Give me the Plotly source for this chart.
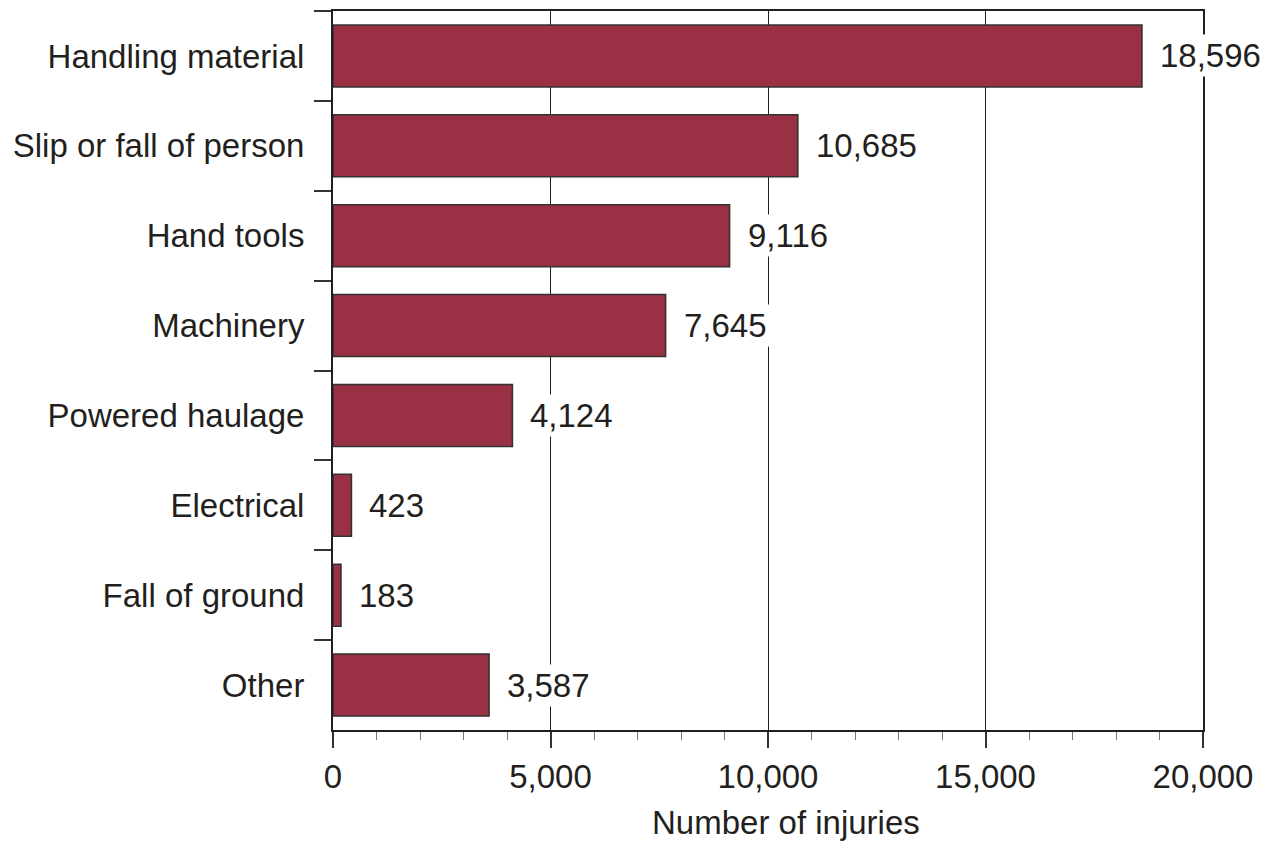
import plotly.graph_objects as go

categories = ["Handling material", "Slip or fall of person", "Hand tools", "Machinery",
              "Powered haulage", "Electrical", "Fall of ground", "Other"]
injuries = [18596, 10685, 9116, 7645, 4124, 423, 183, 3587]
x_tick_values = [0, 5000, 10000, 15000, 20000]
x_tick_labels = ["0", "5,000", "10,000", "15,000", "20,000"]
x_title = "Number of injuries"

FONT = "Liberation Sans, Arial, Helvetica, sans-serif"
TXT = "#231f20"
BAR = "#9a3044"
FS = 33

fig = go.Figure()
fig.add_trace(go.Bar(
    x=injuries, y=categories, orientation="h", width=0.69,
    marker=dict(color=BAR, line=dict(color="#333333", width=1.6)),
    showlegend=False, hoverinfo="x+y",
))

for cat, v in zip(categories, injuries):
    fig.add_annotation(
        x=v, y=cat, xref="x", yref="y", text=f"{v:,}", showarrow=False,
        xanchor="left", yanchor="middle", xshift=15,
        bgcolor="white", borderpad=2,
        font=dict(family=FONT, size=FS, color=TXT),
    )

fig.add_annotation(
    x=0.5207, y=0, xref="paper", yref="paper", text=x_title, showarrow=False,
    xanchor="center", yanchor="middle", yshift=-92,
    font=dict(family=FONT, size=FS, color=TXT),
)

fig.update_layout(
    width=1268, height=842,
    margin=dict(l=333, r=65, t=11, b=112),
    paper_bgcolor="white", plot_bgcolor="white",
    font=dict(family=FONT, size=FS, color=TXT),
)

fig.update_xaxes(
    range=[0, 20000], tickvals=x_tick_values, ticktext=x_tick_labels,
    ticks="outside", ticklen=16, tickwidth=1.5, tickcolor="#333333",
    showline=True, linecolor="#231f20", linewidth=2, mirror=True,
    showgrid=True, gridcolor="#231f20", gridwidth=1,
    zeroline=False,
    minor=dict(dtick=1000, tick0=0, ticks="outside", ticklen=8, tickwidth=1.2,
               tickcolor="#777777", showgrid=False),
    tickfont=dict(family=FONT, size=FS, color=TXT),
    ticklabelstandoff=0,
    automargin=False,
    fixedrange=True,
)

fig.update_yaxes(
    autorange="reversed", tickson="boundaries",
    ticks="outside", ticklen=17, tickwidth=1.5, tickcolor="#333333",
    showline=True, linecolor="#231f20", linewidth=2, mirror=True,
    showgrid=False, zeroline=False,
    tickfont=dict(family=FONT, size=FS, color=TXT),
    ticklabelstandoff=20,
    automargin=False,
    fixedrange=True,
)

fig.write_html("out.html", config={"displayModeBar": False},
               post_script="document.body.style.margin='0';")
